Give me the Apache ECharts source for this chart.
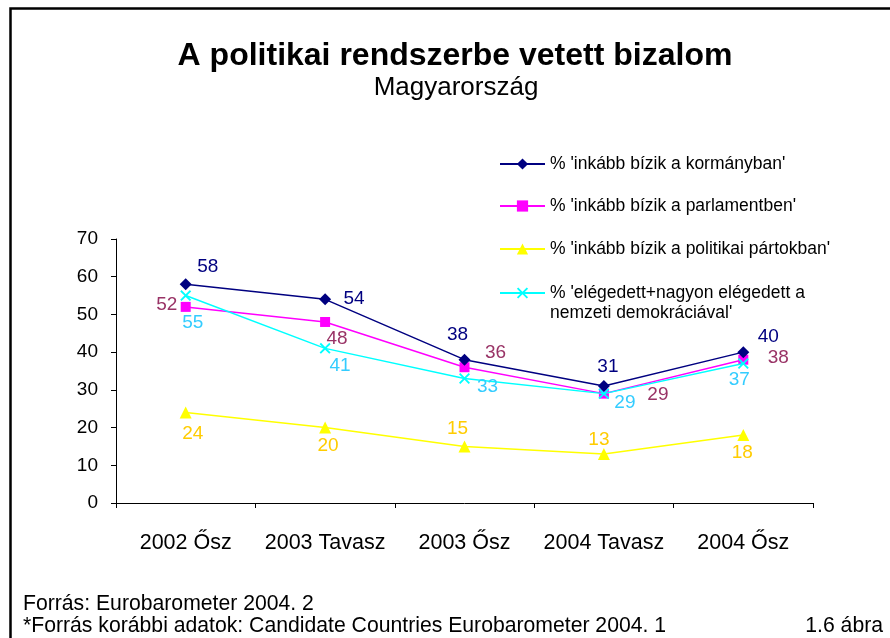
<!DOCTYPE html>
<html>
<head>
<meta charset="utf-8">
<script src="https://cdn.jsdelivr.net/npm/echarts@6/dist/echarts.min.js"></script>
<style>
html,body{margin:0;padding:0;background:#fff;}
#main{width:890px;height:638px;}
</style>
</head>
<body>
<div id="main"></div>
<script>
// ---- data ----
var categories = ['2002 Ősz', '2003 Tavasz', '2003 Ősz', '2004 Tavasz', '2004 Ősz'];
var seriesNames = [
  "% 'inkább bízik a kormányban'",
  "% 'inkább bízik a parlamentben'",
  "% 'inkább bízik a politikai pártokban'",
  "% 'elégedett+nagyon elégedett a nemzeti demokráciával'"
];
var kormany = [58, 54, 38, 31, 40];
var parlament = [52, 48, 36, 29, 38];
var partok = [24, 20, 15, 13, 18];
var elegedett = [55, 41, 33, 29, 37];
var yTicks = [0, 10, 20, 30, 40, 50, 60, 70];

// ---- label placement (style, relative to the point) ----
var offKormany = [[22,-17],[29,-1],[-7,-25],[4,-19],[25,-15]];
var offParlament = [[-19,-2],[12,17],[31,-14],[54,1],[35,-2]];
var offPartok = [[7,21],[3,18],[-7,-18],[-5,-14],[-1,18]];
var offElegedett = [[7,27],[15,17],[23,8],[21,9],[-4,16]];

var FONT = 'Liberation Sans, Arial, sans-serif';

function withLabels(values, offsets, color) {
  return values.map(function (v, i) {
    return {
      value: v,
      label: {
        show: true, position: 'inside', offset: offsets[i],
        color: color, fontSize: 19, fontFamily: FONT,
        align: 'center', verticalAlign: 'middle'
      }
    };
  });
}

var xSymbol = 'path://M0,1.2 L1.2,0 L5,3.8 L8.8,0 L10,1.2 L6.2,5 L10,8.8 L8.8,10 L5,6.2 L1.2,10 L0,8.8 L3.8,5 Z';

var chart = echarts.init(document.getElementById('main'), null, {renderer: 'canvas'});

function legendAt(name, top, formatter) {
  var l = {
    data: [name], left: 499, top: top, orient: 'vertical',
    itemWidth: 45, itemHeight: 14, padding: 0,
    textStyle: {fontSize: 17.5, fontFamily: FONT, color: '#000'},
    selectedMode: false
  };
  if (formatter) l.formatter = formatter;
  return l;
}

var option = {
  backgroundColor: '#fff',
  animation: false,
  grid: {left: 116, right: 77, top: 239, bottom: 135, containLabel: false},
  legend: [
    legendAt(seriesNames[0], 155),
    legendAt(seriesNames[1], 197),
    legendAt(seriesNames[2], 240),
    legendAt(seriesNames[3], 284, function () { return "% 'elégedett+nagyon elégedett a"; })
  ],
  xAxis: {
    type: 'category', data: categories, boundaryGap: true,
    axisLine: {lineStyle: {color: '#000', width: 1}},
    axisTick: {show: true, interval: 0, alignWithLabel: false, length: 5, lineStyle: {color: '#000'}},
    axisLabel: {interval: 0, color: '#000', fontSize: 21.5, fontFamily: FONT, margin: 29}
  },
  yAxis: {
    type: 'value', min: yTicks[0], max: yTicks[yTicks.length - 1], interval: 10,
    axisLine: {show: true, lineStyle: {color: '#000', width: 1}},
    axisTick: {show: true, length: 5, lineStyle: {color: '#000'}},
    axisLabel: {color: '#000', fontSize: 19, fontFamily: FONT, margin: 18},
    splitLine: {show: false}
  },
  series: [
    {
      name: seriesNames[0], type: 'line', data: withLabels(kormany, offKormany, '#000080'),
      symbol: 'diamond', symbolSize: 12,
      lineStyle: {color: '#000080', width: 1.5},
      itemStyle: {color: '#000080'}, z: 4
    },
    {
      name: seriesNames[1], type: 'line', data: withLabels(parlament, offParlament, '#993366'),
      symbol: 'rect', symbolSize: 10,
      lineStyle: {color: '#FF00FF', width: 1.5},
      itemStyle: {color: '#FF00FF'}, z: 3
    },
    {
      name: seriesNames[2], type: 'line', data: withLabels(partok, offPartok, '#FFCC00'),
      symbol: 'triangle', symbolSize: 12,
      lineStyle: {color: '#FFFF00', width: 1.5},
      itemStyle: {color: '#FFFF00'}, z: 2
    },
    {
      name: seriesNames[3], type: 'line', data: withLabels(elegedett, offElegedett, '#33CCFF'),
      symbol: xSymbol, symbolSize: 11,
      lineStyle: {color: '#00FFFF', width: 1.5},
      itemStyle: {color: '#00FFFF'}, z: 5
    }
  ],
  graphic: [
    {type: 'rect', left: 8, top: 6, silent: true,
      shape: {x: 0, y: 0, width: 960, height: 720},
      style: {fill: 'none', stroke: '#000', lineWidth: 2.5}},
    {type: 'text', x: 455, y: 56, silent: true,
      style: {text: 'A politikai rendszerbe vetett bizalom', font: 'bold 32px ' + FONT,
        fill: '#000', align: 'center', verticalAlign: 'middle'}},
    {type: 'text', x: 456, y: 88, silent: true,
      style: {text: 'Magyarország', font: '26px ' + FONT,
        fill: '#000', align: 'center', verticalAlign: 'middle'}},
    {type: 'text', x: 550, y: 313, silent: true,
      style: {text: "nemzeti demokráciával'", font: '17.5px ' + FONT,
        fill: '#000', align: 'left', verticalAlign: 'middle'}},
    {type: 'text', x: 23, y: 604, silent: true,
      style: {text: 'Forrás: Eurobarometer 2004. 2', font: '21.2px ' + FONT,
        fill: '#000', align: 'left', verticalAlign: 'middle'}},
    {type: 'text', x: 23, y: 626, silent: true,
      style: {text: '*Forrás korábbi adatok: Candidate Countries Eurobarometer 2004. 1', font: '21.2px ' + FONT,
        fill: '#000', align: 'left', verticalAlign: 'middle'}},
    {type: 'text', x: 883, y: 626, silent: true,
      style: {text: '1.6 ábra', font: '21.2px ' + FONT,
        fill: '#000', align: 'right', verticalAlign: 'middle'}}
  ]
};
chart.setOption(option);
</script>
</body>
</html>
